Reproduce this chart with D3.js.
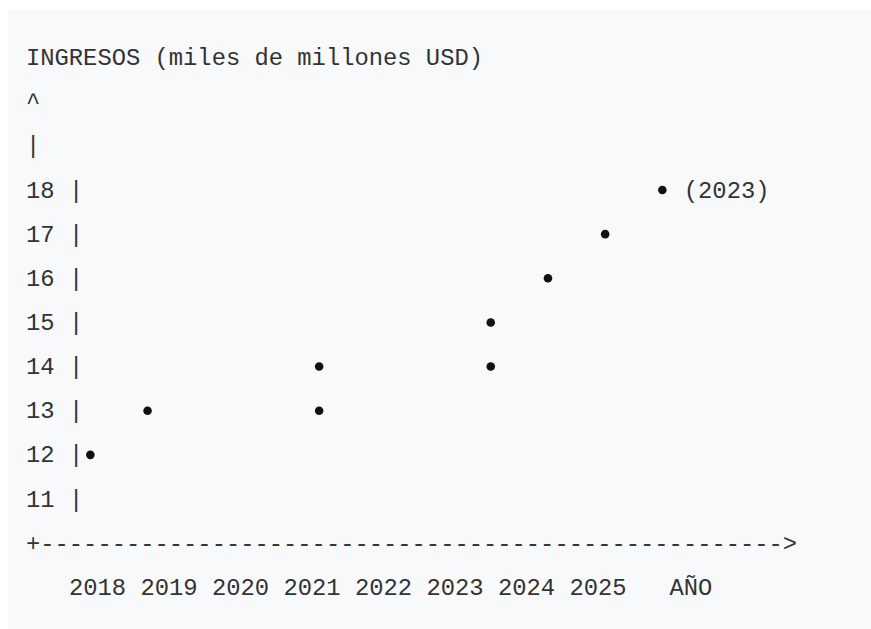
<!DOCTYPE html>
<html>
<head>
<meta charset="utf-8">
<script src="https://cdn.jsdelivr.net/npm/d3@7"></script>
<style>
body{margin:0;background:#fff;}
svg text{font-family:"Liberation Mono",monospace;font-size:23.8px;fill:#333;white-space:pre;}
</style>
</head>
<body>
<svg id="chart"></svg>
<script>
var years=[2017.9,2018.7,2021.1,2021.1,2023.5,2023.5,2024.3,2025.1,2025.9];
var revenue=[12,13,13,14,14,15,16,17,18];
var yearTicks=[2018,2019,2020,2021,2022,2023,2024,2025];
var valueTicks=[18,17,16,15,14,13,12,11];
var title="INGRESOS (miles de millones USD)";
var xTitle="AÑO";
var lastLabel="(2023)";

var width=871,height=629;
var cw=14.3;          // ancho de un caracter
var left=26;
var col=function(c){return left+c*cw;}

var svg=d3.select("#chart")
          .attr("width",width)
          .attr("height",height);

svg.append("rect")
   .attr("x",8).attr("y",10)
   .attr("width",width-8).attr("height",height-10)
   .attr("fill","#f8f9fa");

var xScale=d3.scaleLinear()
             .domain([2018,2025])
             .range([col(5),col(40)]);
var yScale=d3.scaleLinear()
             .domain([11,18])
             .range([499,190]);
var base=7.5; // de centro de fila a linea base

// titulo, flecha y barra
svg.append("text").attr("x",col(0)).attr("y",yScale(21)+base).text(title);
svg.append("text").attr("x",col(0)).attr("y",yScale(20)+base).text("^").attr("fill","#777");
svg.append("text").attr("x",col(0)).attr("y",yScale(19)+base).text("|").attr("fill","#777");

// eje y
var rows=svg.selectAll(".row")
   .data(valueTicks)
   .enter()
   .append("g")
   .classed("row",true);
rows.append("text")
    .attr("x",col(0))
    .attr("y",function(d){return yScale(d)+base;})
    .text(function(d){return d;});
rows.append("text")
    .attr("x",col(3))
    .attr("y",function(d){return yScale(d)+base;})
    .attr("fill","#777")
    .text("|");

// eje x
svg.append("text")
   .attr("x",col(0))
   .attr("y",yScale(10)+base)
   .text("+"+"-".repeat(52)+">");
svg.selectAll(".year")
   .data(yearTicks)
   .enter()
   .append("text")
   .classed("year",true)
   .attr("x",function(d){return xScale(d)-2*cw;})
   .attr("y",yScale(9)+base)
   .text(function(d){return d;});
svg.append("text")
   .attr("x",col(45))
   .attr("y",yScale(9)+base)
   .text(xTitle);

// puntos
svg.selectAll("circle")
   .data(years)
   .enter()
   .append("circle")
   .attr("cx",function(d){return xScale(d);})
   .attr("cy",function(d,i){return yScale(revenue[i]);})
   .attr("r",4.3)
   .attr("fill","#111");

var n=years.length-1;
svg.append("text")
   .attr("x",xScale(years[n])+1.5*cw)
   .attr("y",yScale(revenue[n])+base)
   .text(lastLabel);
</script>
</body>
</html>
